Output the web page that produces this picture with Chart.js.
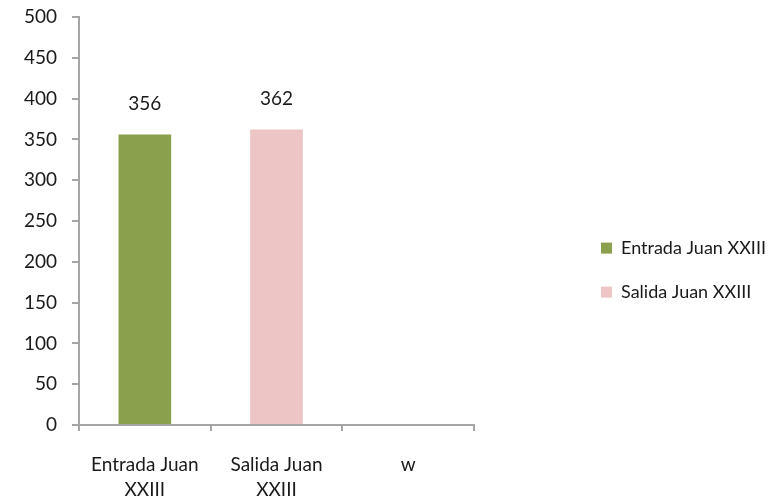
<!DOCTYPE html>
<html><head><meta charset="utf-8">
<script src="https://cdn.jsdelivr.net/npm/chart.js@4/dist/chart.umd.min.js"></script>
<style>html,body{margin:0;padding:0;background:#fff}#wrap{width:770px;height:502px}</style>
</head><body><div id="wrap"><canvas id="c"></canvas></div>
<script>
const categories = [["Entrada Juan","XXIII"], ["Salida Juan","XXIII"], "w"];
const seriesNames = ["Entrada Juan XXIII", "Salida Juan XXIII"];
const entradaValues = [356, null, null];
const salidaValues = [null, 362, null];
const yTicks = {min: 0, max: 500, step: 50};
const colors = ["#8ba04c", "#ecc5c4"];
const FONT = "Lato, 'Open Sans', sans-serif";
const FS = 19;
const axisColor = "#a5a5a5";
const LEGEND_W = 195;

const labelPlugin = {
  id: 'valueLabels',
  afterInit(chart) {
    const lg = chart.legend;
    if (lg) {
      const orig = lg.fit.bind(lg);
      lg.fit = function () { orig(); this.width = LEGEND_W; };
    }
  },
  afterDatasetsDraw(chart) {
    const ctx = chart.ctx;
    ctx.save();
    ctx.font = FS + "px " + FONT;
    ctx.fillStyle = "#1a1a1a";
    ctx.textAlign = "center";
    ctx.textBaseline = "middle";
    chart.data.datasets.forEach((ds, di) => {
      const meta = chart.getDatasetMeta(di);
      meta.data.forEach((el, i) => {
        const v = ds.data[i];
        if (v === null || v === undefined) return;
        ctx.fillText(String(v), el.x, el.y - 31);
      });
    });
    ctx.restore();
  }
};

new Chart(document.getElementById('c'), {
  type: 'bar',
  data: {
    labels: categories,
    datasets: [
      {label: seriesNames[0], data: entradaValues, backgroundColor: colors[0]},
      {label: seriesNames[1], data: salidaValues, backgroundColor: colors[1]}
    ]
  },
  options: {
    responsive: true,
    maintainAspectRatio: false,
    animation: false,
    devicePixelRatio: 1,
    categoryPercentage: 1,
    barPercentage: 0.4,
    layout: {padding: {top: 0, left: 0, right: 0, bottom: 0}},
    plugins: {
      legend: {
        position: 'right',
        title: {display: true, text: '', font: {size: 1}, padding: {top: 37, bottom: 0}},
        labels: {
          font: {family: FONT, size: 18},
          color: "#1a1a1a",
          boxWidth: 11, boxHeight: 11,
          padding: 26
        }
      },
      tooltip: {enabled: false}
    },
    scales: {
      x: {
        stacked: true,
        grid: {display: true, drawOnChartArea: false, offset: true, color: axisColor, lineWidth: 2, tickLength: 6},
        border: {color: axisColor, width: 2},
        ticks: {font: {family: FONT, size: FS, lineHeight: 1.32}, color: "#1a1a1a", padding: 21, maxRotation: 0, autoSkip: false},
        afterFit(s) { s.height = 77; }
      },
      y: {
        stacked: true,
        min: yTicks.min, max: yTicks.max,
        grid: {display: true, drawOnChartArea: false, color: axisColor, lineWidth: 2, tickLength: 7},
        border: {color: axisColor, width: 2},
        ticks: {stepSize: yTicks.step, font: {family: FONT, size: FS}, color: "#1a1a1a", padding: 15},
        afterFit(s) { s.width = 79; s.paddingTop = 17; s.paddingBottom = 0; }
      },
      spacer: {
        position: 'right',
        display: true,
        grid: {display: false},
        border: {display: false},
        ticks: {display: false},
        afterFit(s) { s.width = 770 - 474 - LEGEND_W; }
      }
    }
  },
  plugins: [labelPlugin]
});
</script></body></html>
